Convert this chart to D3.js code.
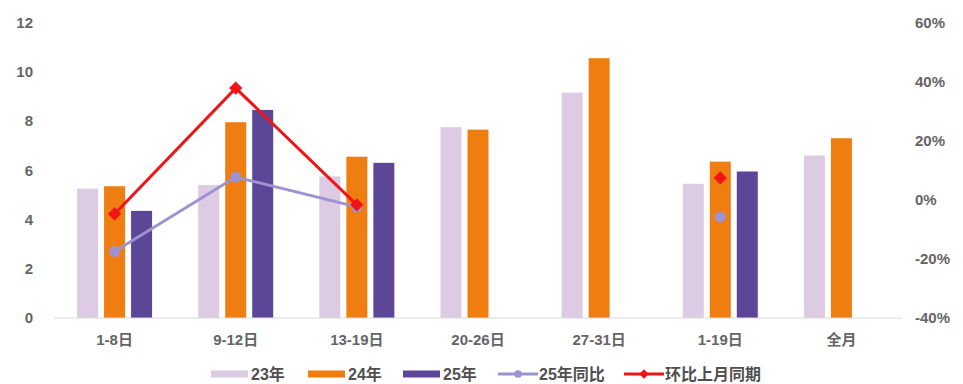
<!DOCTYPE html>
<html>
<head>
<meta charset="utf-8">
<script src="https://cdn.jsdelivr.net/npm/d3@7"></script>
<style>
  body { margin: 0; background: #fff; }
  text { font-family: "Liberation Sans Narrow", "Liberation Sans", "Noto Sans CJK SC", sans-serif; }
</style>
</head>
<body>
<div id="chart"></div>
<script>
// données
const categories = ["1-8日", "9-12日", "13-19日", "20-26日", "27-31日", "1-19日", "全月"];
const v23 = [5.25, 5.4, 5.75, 7.75, 9.15, 5.45, 6.6];
const v24 = [5.35, 7.95, 6.55, 7.65, 10.55, 6.35, 7.3];
const v25 = [4.35, 8.45, 6.3, null, null, 5.95, null];
const yoy25 = [-17.5, 7.7, -2.4, null, null, -5.8, null];   // 25年同比 (%)
const mom = [-4.8, 37.8, -1.7, null, null, 7.4, null];      // 环比上月同期 (%)
const leftTicks = [0, 2, 4, 6, 8, 10, 12];
const rightTicks = [-40, -20, 0, 20, 40, 60];

const barSeries = [
    { name: "23年", values: v23, color: "#dccbe2" },
    { name: "24年", values: v24, color: "#ef7d0f" },
    { name: "25年", values: v25, color: "#5c4697" }
];
const lineSeries = [
    { name: "25年同比", values: yoy25, color: "#9d93d3", marker: "circle" },
    { name: "环比上月同期", values: mom, color: "#f01414", marker: "diamond" }
];

const width = 963;
const height = 384;

const svg = d3.select("#chart")
    .append("svg")
    .attr("width", width)
    .attr("height", height);

// échelles
const x = d3.scaleBand().domain(categories).range([54, 902]);
const xSub = d3.scaleBand()
    .domain(barSeries.map(s => s.name))
    .range([0, 81])
    .paddingInner(0.2222)
    .paddingOuter(0.111);
const yL = d3.scaleLinear().domain([0, 12]).range([318, 22.5]);
const yR = d3.scaleLinear().domain([-40, 60]).range([318, 22.5]);

const cx = (i) => x(categories[i]) + x.bandwidth() / 2;

// axe de gauche
svg.append("g")
    .selectAll("text")
    .data(leftTicks)
    .join("text")
    .attr("x", 33)
    .attr("y", d => yL(d))
    .attr("dy", "0.35em")
    .attr("text-anchor", "end")
    .attr("font-size", 15)
    .attr("font-weight", "bold")
    .attr("fill", "#656565")
    .text(d => d);

// axe de droite
svg.append("g")
    .selectAll("text")
    .data(rightTicks)
    .join("text")
    .attr("x", 915)
    .attr("y", d => yR(d))
    .attr("dy", "0.35em")
    .attr("text-anchor", "start")
    .attr("font-size", 15)
    .attr("font-weight", "bold")
    .attr("fill", "#656565")
    .text(d => (d < 0 ? "-" + Math.abs(d) : d) + "%");

// barres
barSeries.forEach(function (s) {
    svg.append("g")
        .selectAll("rect")
        .data(s.values.map((v, i) => ({ v, i })).filter(d => d.v != null))
        .join("rect")
        .attr("x", d => cx(d.i) - 40.5 + xSub(s.name))
        .attr("y", d => yL(d.v))
        .attr("width", xSub.bandwidth())
        .attr("height", d => yL(0) - yL(d.v))
        .attr("fill", s.color);
});

// ligne de base
svg.append("line")
    .attr("x1", 54).attr("x2", 902)
    .attr("y1", yL(0)).attr("y2", yL(0))
    .attr("stroke", "#d9d9d9")
    .attr("stroke-width", 1.2);

// étiquettes des catégories
svg.append("g")
    .selectAll("text")
    .data(categories)
    .join("text")
    .attr("x", d => x(d) + x.bandwidth() / 2)
    .attr("y", 340)
    .attr("dy", "0.35em")
    .attr("text-anchor", "middle")
    .attr("font-size", 15)
    .attr("font-weight", "bold")
    .attr("fill", "#656565")
    .text(d => d);

// courbes
const line = d3.line()
    .defined(d => d.v != null)
    .x(d => cx(d.i))
    .y(d => yR(d.v));

function drawMarker(g, type, color, px, py, scale) {
    if (type === "circle") {
        g.append("circle")
            .attr("cx", px).attr("cy", py)
            .attr("r", 5.5 * scale)
            .attr("fill", color);
    } else {
        g.append("path")
            .attr("d", d3.symbol(d3.symbolSquare, 88 * scale * scale)())
            .attr("transform", `translate(${px},${py}) rotate(45)`)
            .attr("fill", color);
    }
}

lineSeries.forEach(function (s) {
    const pts = s.values.map((v, i) => ({ v, i }));
    const g = svg.append("g");
    g.append("path")
        .datum(pts)
        .attr("d", line)
        .attr("fill", "none")
        .attr("stroke", s.color)
        .attr("stroke-width", 3);
    pts.filter(d => d.v != null).forEach(function (d) {
        drawMarker(g, s.marker, s.color, cx(d.i), yR(d.v), 1);
    });
});

// légende
const legendY = 374;
const legendItems = [
    { s: barSeries[0], x: 211, type: "bar" },
    { s: barSeries[1], x: 308, type: "bar" },
    { s: barSeries[2], x: 403, type: "bar" },
    { s: lineSeries[0], x: 498, type: "line" },
    { s: lineSeries[1], x: 624, type: "line" }
];
legendItems.forEach(function (item) {
    const g = svg.append("g");
    if (item.type === "bar") {
        g.append("rect")
            .attr("x", item.x)
            .attr("y", legendY - 3.5)
            .attr("width", 37)
            .attr("height", 7)
            .attr("fill", item.s.color);
    } else {
        g.append("line")
            .attr("x1", item.x).attr("x2", item.x + 40)
            .attr("y1", legendY).attr("y2", legendY)
            .attr("stroke", item.s.color)
            .attr("stroke-width", 3);
        drawMarker(g, item.s.marker, item.s.color, item.x + 20, legendY, 0.7);
    }
    g.append("text")
        .attr("x", item.x + (item.type === "bar" ? 40 : 41))
        .attr("y", legendY)
        .attr("dy", "0.35em")
        .attr("font-size", 16)
        .attr("font-weight", "bold")
        .attr("fill", "#505050")
        .text(item.s.name);
});
</script>
</body>
</html>
